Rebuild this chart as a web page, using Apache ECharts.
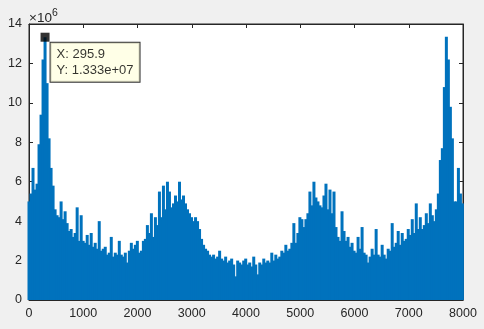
<!DOCTYPE html>
<html>
<head>
<meta charset="utf-8">
<script src="https://cdn.jsdelivr.net/npm/echarts@6/dist/echarts.min.js"></script>
<style>
    html, body { margin: 0; padding: 0; background: #f0f0f0; }
    #main { width: 484px; height: 329px; }
</style>
</head>
<body>
<div id="main"></div>
<script>
// spectrum magnitude (x 10^6), one value per bin
var amp = [
    5.0, 5.4, 6.7, 5.6, 5.9, 7.9, 9.4, 12.2, 13.33, 11.0,
    8.2, 6.7, 5.8, 4.6, 4.3, 4.2, 5.0, 4.1, 4.5, 3.9,
    3.5, 3.6, 3.2, 3.4, 4.7, 3.0, 4.3, 3.0, 2.9, 3.3,
    2.8, 3.4, 2.7, 2.9, 2.6, 4.0, 2.5, 2.6, 2.7, 2.3,
    2.4, 3.2, 2.2, 2.4, 2.3, 3.0, 2.3, 2.2, 2.4, 1.9,
    2.5, 2.9, 2.6, 2.8, 3.0, 2.4, 2.5, 3.0, 3.1, 3.8,
    3.4, 4.4, 3.2, 4.2, 3.8, 5.5, 4.2, 5.8, 4.6, 6.0,
    5.5, 4.7, 4.9, 5.3, 5.0, 6.0, 5.1, 5.3, 4.9, 4.6,
    4.4, 4.2, 4.0, 4.2, 4.0, 3.6, 3.1, 2.8, 2.6, 2.5,
    2.3, 2.2, 2.3, 2.1, 2.2, 2.5, 2.1, 2.0, 2.2, 1.9,
    2.0, 2.1, 1.8, 1.2, 2.0, 1.9, 1.8, 2.0, 2.1, 1.8,
    1.9, 1.7, 2.2, 1.8, 1.3, 1.9, 1.8, 2.1, 1.9, 2.0,
    1.9, 2.4, 2.0, 2.3, 2.1, 2.2, 2.5, 2.4, 2.8, 2.5,
    2.6, 2.9, 3.9, 2.9, 3.4, 4.2, 4.1, 3.7, 4.1, 4.4,
    5.5, 4.8, 6.0, 5.2, 5.0, 4.8, 4.7, 5.3, 5.9, 4.6,
    5.6, 4.4, 5.5, 3.7, 3.2, 3.0, 4.5, 3.5, 3.0, 3.2,
    2.7, 2.9, 2.5, 2.4, 3.2, 2.6, 3.7, 2.4, 2.3, 1.9,
    2.2, 2.6, 2.3, 3.6, 2.3, 2.2, 2.8, 2.3, 2.1, 2.6,
    2.5, 3.9, 2.7, 2.9, 3.5, 2.8, 3.4, 3.0, 3.1, 3.6,
    3.3, 4.1, 3.4, 4.9, 3.6, 4.2, 3.6, 3.8, 4.4, 3.9,
    4.9, 4.3, 4.0, 4.6, 5.4, 7.1, 7.7, 10.8, 13.35, 12.2,
    9.8, 8.2, 5.0, 5.0, 6.7, 5.4, 4.9
];
var step = 36.9875;   // bin spacing, 295.9 / 8
var xTicks = [0, 1000, 2000, 3000, 4000, 5000, 6000, 7000, 8000];
var yTicks = [0, 2, 4, 6, 8, 10, 12, 14];

// data tip
var tipX = 295.9;
var tipY = 13.33;

var font = "'Liberation Sans', Arial, sans-serif";
var ink = '#262626';

var barData = amp.map(function (v, i) { return [i * step, v]; });

function tipText() {
    var e = (tipY * 1e6).toExponential(3).replace(/e\+(\d)$/, 'e+0$1');
    return 'X: ' + tipX + '\nY: ' + e;
}

function plain(v) { return String(v); }

var myChart = echarts.init(document.getElementById('main'));
var option = {
    backgroundColor: '#f0f0f0',
    animation: false,
    grid: {
        left: 29, right: 21, top: 24, bottom: 29,
        show: true,
        backgroundColor: '#fff',
        borderColor: ink,
        borderWidth: 1
    },
    xAxis: [{
        type: 'value',
        min: xTicks[0], max: xTicks[xTicks.length - 1], interval: 1000,
        axisLine: { show: true, onZero: false, lineStyle: { color: ink } },
        axisTick: { show: true, inside: true, length: 4, lineStyle: { color: ink } },
        axisLabel: { color: ink, fontSize: 12.5, fontFamily: font, margin: 7, formatter: plain },
        splitLine: { show: false }
    }, {
        type: 'value', position: 'top',
        min: xTicks[0], max: xTicks[xTicks.length - 1], interval: 1000,
        axisLine: { show: true, onZero: false, lineStyle: { color: ink } },
        axisTick: { show: true, inside: true, length: 4, lineStyle: { color: ink } },
        axisLabel: { show: false },
        splitLine: { show: false }
    }],
    yAxis: [{
        type: 'value',
        min: yTicks[0], max: yTicks[yTicks.length - 1], interval: 2,
        name: '{a|×10}{b|6}',
        nameLocation: 'end',
        nameGap: -4,
        nameTextStyle: {
            align: 'left',
            rich: {
                a: { fontSize: 13.5, fontFamily: font, color: ink },
                b: { fontSize: 10.5, fontFamily: font, color: ink, padding: [0, 0, 9, 0] }
            }
        },
        axisLine: { show: true, onZero: false, lineStyle: { color: ink } },
        axisTick: { show: true, inside: true, length: 4, lineStyle: { color: ink } },
        axisLabel: { color: ink, fontSize: 12.5, fontFamily: font, margin: 7, formatter: plain },
        splitLine: { show: false }
    }, {
        type: 'value', position: 'right',
        min: yTicks[0], max: yTicks[yTicks.length - 1], interval: 2,
        axisLine: { show: true, onZero: false, lineStyle: { color: ink } },
        axisTick: { show: true, inside: true, length: 4, lineStyle: { color: ink } },
        axisLabel: { show: false },
        splitLine: { show: false }
    }],
    series: [{
        type: 'bar',
        data: barData,
        barWidth: 3,
        barGap: '-100%',
        itemStyle: { color: '#0072bd' }
    }, {
        type: 'scatter',
        data: [[tipX, tipY]],
        symbol: 'rect',
        symbolSize: 9,
        z: 10,
        itemStyle: { color: '#000' },
        label: {
            show: true,
            position: [10, 10],
            formatter: tipText,
            backgroundColor: '#ffffe1',
            borderColor: '#000',
            borderWidth: 1,
            padding: [4, 6, 3, 6],
            lineHeight: 16,
            fontSize: 13,
            fontFamily: font,
            color: '#000'
        }
    }]
};
myChart.setOption(option);
</script>
</body>
</html>
